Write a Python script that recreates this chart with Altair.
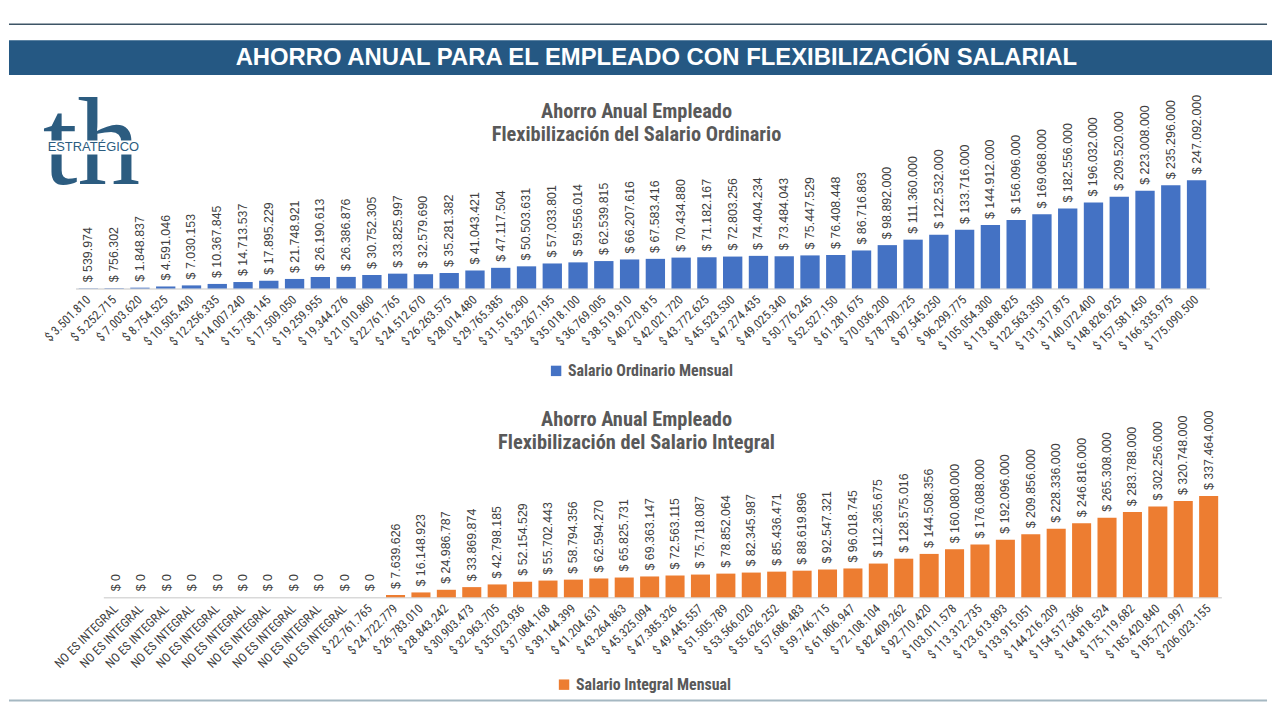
import json
import pandas as pd
import altair as alt

# Ahorro anual del empleado - flexibilizacion salarial

# salario ordinario mensual (eje x) y ahorro anual
salario_ordinario = [
    "$ 3.501.810", "$ 5.252.715", "$ 7.003.620", "$ 8.754.525", "$ 10.505.430",
    "$ 12.256.335", "$ 14.007.240", "$ 15.758.145", "$ 17.509.050", "$ 19.259.955",
    "$ 19.344.276", "$ 21.010.860", "$ 22.761.765", "$ 24.512.670", "$ 26.263.575",
    "$ 28.014.480", "$ 29.765.385", "$ 31.516.290", "$ 33.267.195", "$ 35.018.100",
    "$ 36.769.005", "$ 38.519.910", "$ 40.270.815", "$ 42.021.720", "$ 43.772.625",
    "$ 45.523.530", "$ 47.274.435", "$ 49.025.340", "$ 50.776.245", "$ 52.527.150",
    "$ 61.281.675", "$ 70.036.200", "$ 78.790.725", "$ 87.545.250", "$ 96.299.775",
    "$ 105.054.300", "$ 113.808.825", "$ 122.563.350", "$ 131.317.875", "$ 140.072.400",
    "$ 148.826.925", "$ 157.581.450", "$ 166.335.975", "$ 175.090.500",
]
ahorro_ordinario = [
    539974, 756302, 1848837, 4591046, 7030153, 10367845, 14713537, 17895229,
    21748921, 26190613, 26386876, 30752305, 33825997, 32579690, 35281382,
    41043421, 47117504, 50503631, 57033801, 59556014, 62539815, 66207616,
    67583416, 70434880, 71182167, 72803256, 74404234, 73484043, 75447529,
    76408448, 86716863, 98892000, 111360000, 122532000, 133716000, 144912000,
    156096000, 169068000, 182556000, 196032000, 209520000, 223008000,
    235296000, 247092000,
]

# salario integral mensual (eje x) y ahorro anual
salario_integral = ["NO ES INTEGRAL"] * 10 + [
    "$ 22.761.765", "$ 24.722.779", "$ 26.783.010", "$ 28.843.242", "$ 30.903.473",
    "$ 32.963.705", "$ 35.023.936", "$ 37.084.168", "$ 39.144.399", "$ 41.204.631",
    "$ 43.264.863", "$ 45.325.094", "$ 47.385.326", "$ 49.445.557", "$ 51.505.789",
    "$ 53.566.020", "$ 55.626.252", "$ 57.686.483", "$ 59.746.715", "$ 61.806.947",
    "$ 72.108.104", "$ 82.409.262", "$ 92.710.420", "$ 103.011.578", "$ 113.312.735",
    "$ 123.613.893", "$ 133.915.051", "$ 144.216.209", "$ 154.517.366", "$ 164.818.524",
    "$ 175.119.682", "$ 185.420.840", "$ 195.721.997", "$ 206.023.155",
]
ahorro_integral = [0] * 11 + [
    7639626, 16148923, 24986787, 33869874, 42798185, 52154529, 55702443,
    58794356, 62594270, 65825731, 69363147, 72563115, 75718087, 78852064,
    82345987, 85436471, 88619896, 92547321, 96018745, 112365675, 128575016,
    144508356, 160080000, 176088000, 192096000, 209856000, 228336000,
    246816000, 265308000, 283788000, 302256000, 320748000, 337464000,
]

AZUL, NARANJA = "#4472C4", "#ED7D31"
NARROW = "Liberation Sans Narrow, Roboto Condensed, Arial Narrow, Liberation Sans"
SANS = "Liberation Sans, Arial"
GRIS = "#595959"
LOGO = "#2c5c80"


def pesos(v):
    return "$ " + f"{v:,}".replace(",", ".")


def tabla(etiquetas, valores, serie):
    return pd.DataFrame({
        "i": list(range(len(valores))),
        "ahorro": valores,
        "texto": [pesos(v) for v in valores],
        "serie": serie,
    })


uno = pd.DataFrame({"k": [0]})


def texto(t, x, y, size, color=GRIS, font=NARROW, weight="bold", **kw):
    return alt.Chart(uno).mark_text(
        text=t, font=font, fontSize=size, fontWeight=weight, color=color,
        align=kw.pop("align", "center"), baseline=kw.pop("baseline", "middle"), **kw
    ).encode(x=alt.value(x), y=alt.value(y))


def panel(df, etiquetas, color, rango, dominio, alto, titulo2, y_tit, leyenda_xy):
    base = alt.Chart(df).encode(
        x=alt.X(
            "i:O", title=None,
            scale=alt.Scale(range=rango, paddingInner=0.25, paddingOuter=0.125),
            axis=alt.Axis(
                labelExpr=json.dumps(etiquetas, ensure_ascii=False) + "[datum.value]",
                labelAngle=315, labelAlign="right", labelBaseline="middle",
                labelFont=NARROW, labelFontSize=12.5, labelColor="#404040",
                labelPadding=9, labelOverlap=False, ticks=False,
                domainColor="#d9d9d9", domainWidth=1.5,
            ),
        ),
        y=alt.Y("ahorro:Q", scale=alt.Scale(domain=[0, dominio]), axis=None),
    )
    barras = base.mark_bar().encode(
        color=alt.Color(
            "serie:N", scale=alt.Scale(range=[color]),
            legend=alt.Legend(
                title=None, orient="none", legendX=leyenda_xy[0], legendY=leyenda_xy[1],
                symbolType="square", symbolSize=110, symbolStrokeWidth=0, labelLimit=400,
                labelFont=NARROW, labelFontSize=16, labelColor=GRIS, labelFontWeight="bold",
            ),
        )
    )
    valores = base.mark_text(
        angle=270, align="left", baseline="middle", dx=6,
        font=SANS, fontSize=12.5, color="#404040",
    ).encode(text="texto:N")
    t1 = texto("Ahorro Anual Empleado", 632, y_tit, 20.5)
    t2 = texto(titulo2, 632, y_tit + 23, 20.5)
    return alt.layer(barras, valores, t1, t2).properties(width=1272, height=alto)


df_ord = tabla(salario_ordinario, ahorro_ordinario, "Salario Ordinario Mensual")
df_int = tabla(salario_integral, ahorro_integral, "Salario Integral Mensual")

# encabezado con banda y logo
linea = alt.Chart(uno).mark_rule(color="#3d5566", strokeWidth=1.5).encode(
    x=alt.value(0), x2=alt.value(1267), y=alt.value(14))
banda = alt.Chart(uno).mark_rect(color="#255883").encode(
    x=alt.value(0), x2=alt.value(1272), y=alt.value(30), y2=alt.value(65))
hueco = alt.Chart(uno).mark_rect(color="white").encode(
    x=alt.value(26), x2=alt.value(142), y=alt.value(131), y2=alt.value(145))
encabezado = alt.layer(
    linea, banda,
    texto("AHORRO ANUAL PARA EL EMPLEADO CON FLEXIBILIZACIÓN SALARIAL", 652, 48, 24,
          color="white", font=SANS),
    texto("th", 34, 175, 126, color=LOGO, font="Liberation Serif", weight="normal",
          align="left", baseline="alphabetic"),
    hueco,
    texto("ESTRATÉGICO", 85, 138, 13, color=LOGO, font=SANS, weight="normal"),
).properties(width=1272, height=80)

arriba = panel(df_ord, salario_ordinario, AZUL, [67, 1209], 453e6, 200,
               "Flexibilización del Salario Ordinario", 22, (543, 275))

pie = alt.Chart(uno).mark_rule(color="#a5b8c2", strokeWidth=2).encode(
    x=alt.value(0), x2=alt.value(1267), y=alt.value(415))
abajo = alt.layer(
    panel(df_int, salario_integral, NARANJA, [95, 1221], 1028.9e6, 311,
          "Flexibilización del Salario Integral", 133, (551, 391)),
    pie,
)

chart = alt.vconcat(
    encabezado, arriba, abajo, spacing=0, bounds="flush"
).resolve_scale(
    x="independent", y="independent", color="independent"
).properties(padding=0).configure_view(stroke=None)

chart.save("out.html", embed_options={"renderer": "svg", "actions": False})
